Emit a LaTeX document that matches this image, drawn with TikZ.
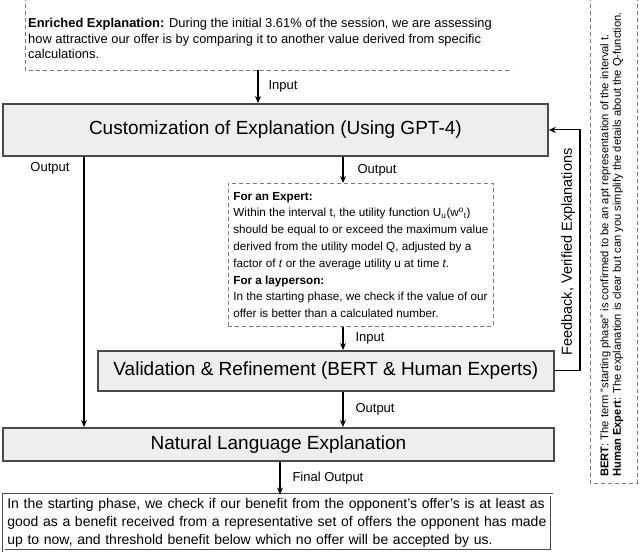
\documentclass[tikz,border=0pt]{standalone}
\usepackage{fontspec}
\setmainfont{Liberation Sans}
\usetikzlibrary{arrows.meta,calc}
\definecolor{boxfill}{HTML}{EEEEEE}
\definecolor{boxline}{HTML}{4A4A4A}
\definecolor{dashcol}{HTML}{7A7A7A}
\begin{document}
\begin{tikzpicture}[x=1pt,y=-1pt,
 procbox/.style={draw=boxline,line width=1.8pt,fill=boxfill,inner sep=0pt,anchor=north west,
                 font=\fontsize{19}{22}\selectfont},
 dashframe/.style={draw=dashcol,line width=0.7pt,dash pattern=on 4pt off 3pt},
 arr/.style={-{Stealth[length=7pt,width=6pt]},line width=1.1pt},
 lab/.style={font=\fontsize{13}{15}\selectfont,inner sep=0pt},
 ]
\clip (0,0) rectangle (640,555);
\fill[white] (0,0) rectangle (640,555);

% enriched explanation (top, partly cut)
\node[anchor=south west,align=left,inner sep=3pt,
      font=\fontsize{12.9}{15.5}\selectfont] (enr) at (25,62)
 {\textbf{Enriched Explanation:} During the initial 3.61\% of the session, we are assessing\\
  how attractive our offer is by comparing it to another value derived from specific\\
  calculations.};
\draw[dashframe] (25,-10) -- (25,70) -- (512,70);
\coordinate (enrbot) at (258,70);

% main customization box
\node[procbox,minimum width=545pt,minimum height=52pt] (cust) at (2,103)
 {Customization of Explanation (Using GPT-4)};
\draw[arr] (enrbot) -- (enrbot |- cust.north)
  node[lab,midway,anchor=west,xshift=10pt] {Input};

% dashed explanation box
\node[dashframe,anchor=north west,minimum width=265pt,minimum height=143pt,
      inner sep=4pt,align=left,font=\fontsize{11.7}{16.8}\selectfont] (exp) at (228,183)
 {\textbf{For an Expert:}\\
  Within the interval t, the utility function U\textsubscript{u}(w\textsuperscript{o}\textsubscript{t})\\
  should be equal to or exceed the maximum value\\
  derived from the utility model Q, adjusted by a\\
  factor of \textit{t} or the average utility u at time \textit{t}.\\
  \textbf{For a layperson:}\\
  In the starting phase, we check if the value of our\\
  offer is better than a calculated number.};

\coordinate (midx) at (343,0);
\draw[arr] (cust.south -| midx) -- (exp.north -| midx)
  node[lab,midway,anchor=west,xshift=14pt] {Output};

% validation box
\node[procbox,minimum width=456pt,minimum height=40pt] (val) at (97,350)
 {Validation \& Refinement (BERT \& Human Experts)};
\draw[arr] (exp.south -| midx) -- (val.north -| midx)
  node[lab,midway,anchor=west,xshift=12pt] {Input};

% natural language explanation box
\node[procbox,minimum width=551pt,minimum height=33pt] (nle) at (2,427)
 {Natural Language Explanation};
\draw[arr] (val.south -| midx) -- (nle.north -| midx)
  node[lab,midway,anchor=west,xshift=12pt] {Output};

% left output path
\coordinate (leftx) at (84,0);
\draw[arr] (cust.south -| leftx) -- (nle.north -| leftx);
\node[lab] (outl) at (50,168) {Output};

% feedback loop
\coordinate (fbx) at (580,0);
\draw[arr] (val.east) -- (val.east -| fbx) -- (cust.east -| fbx) -- (cust.east);
\node[rotate=90,inner sep=0pt,font=\fontsize{14.5}{17}\selectfont] (fbl) at (568,252)
 {Feedback, Verified Explanations};

% final output box
\node[anchor=north west,draw=boxline,line width=0.6pt,double,double distance=2pt,
      text width=541pt,inner sep=3.5pt,align=left,
      font=\fontsize{14}{18}\selectfont] (fin) at (3.5,494.5)
 {In the starting phase, we check if our benefit from the opponent's offer's is at least as\\
  good as a benefit received from a representative set of offers the opponent has made\\
  up to now, and threshold benefit below which no offer will be accepted by us.};
\coordinate (finx) at (280,0);
\draw[arr] (nle.south -| finx) -- (fin.north -| finx)
  node[lab,midway,anchor=west,xshift=12pt] {Final Output};

% right feedback panel (rotated)
\node[rotate=90,anchor=north west,align=left,inner sep=3pt,
      font=\fontsize{11.2}{12.5}\selectfont] (panel) at (597,480)
 {\textbf{BERT}: The term "starting phase" is confirmed to be an apt representation of the interval t.\\
  \textbf{Human Expert}: The explanation is clear but can you simplify the details about the Q-function.};
\draw[dashframe] (590,-10) -- (590,483) -- (637,483) -- (637,-10);
\end{tikzpicture}
\end{document}
